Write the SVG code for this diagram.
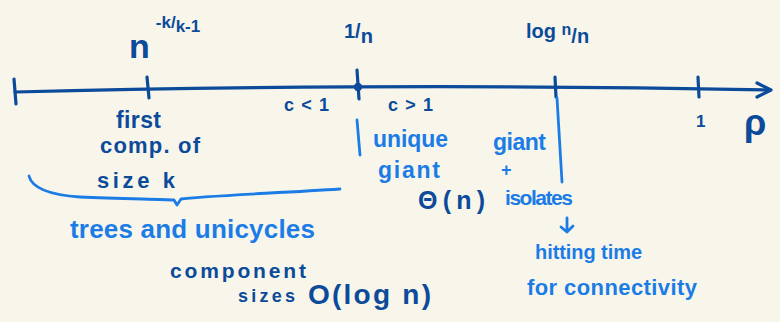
<svg xmlns="http://www.w3.org/2000/svg" width="780" height="322" viewBox="0 0 780 322">
<style>
.d{fill:#0c4a9a;font-family:"Liberation Sans","Open Sans",sans-serif;font-weight:bold}
.l{fill:#1c7ce6;font-family:"Liberation Sans","Open Sans",sans-serif;font-weight:bold}
.sd{stroke:#0c4a9a;stroke-width:3.2;fill:none;stroke-linecap:round;stroke-linejoin:round}
.sl{stroke:#1c7ce6;stroke-width:2.8;fill:none;stroke-linecap:round;stroke-linejoin:round}
</style>
<rect width="780" height="322" fill="#f8f6eb"/>
<g id="axis">
<path class="sd" d="M15,92 C200,87 480,84 770,90"/>
<path class="sd" d="M757,83 L771,90 L757,97"/>
<path class="sd" d="M14,79 L16,104"/>
<path class="sd" d="M147,77 L149,98"/>
<path class="sd" d="M357,70 L359,99"/>
<circle cx="358" cy="87" r="4.2" fill="#0c4a9a"/>
<path class="sd" d="M555,77 L556,97"/>
<path class="sd" d="M698,77 L699,97"/>
</g>
<g id="axis-labels">
<text class="d" x="129" y="58" font-size="34">n<tspan dx="6" dy="-30" font-size="17">-k/</tspan><tspan dy="4" font-size="17">k-1</tspan></text>
<text class="d" x="344" y="38" font-size="20">1/<tspan dy="5">n</tspan></text>
<text class="d" x="526" y="38" font-size="20">log <tspan dy="-3" font-size="16">n</tspan><tspan dy="8">/n</tspan></text>
<text class="d" x="696" y="127" font-size="17">1</text>
<text class="d" x="744" y="135" font-size="36" font-weight="normal">ρ</text>
<text class="d" x="284" y="111" font-size="18" textLength="45" lengthAdjust="spacing">c&lt;1</text>
<text class="d" x="388" y="111" font-size="18" textLength="45" lengthAdjust="spacing">c&gt;1</text>
</g>
<g id="first-comp">
<text class="d" x="116" y="128" font-size="23" textLength="45" lengthAdjust="spacing">first</text>
<text class="d" x="100" y="153" font-size="22" textLength="100" lengthAdjust="spacing">comp. of</text>
<text class="d" x="97" y="188" font-size="22" textLength="78" lengthAdjust="spacing">size k</text>
</g>
<g id="trees">
<path class="sl" d="M29,176 C32,188 50,195 80,197 C120,199 160,199 174,200 L177,205 L181,199 C200,196 280,193 340,189"/>
<text class="l" x="70" y="238" font-size="26" textLength="245" lengthAdjust="spacing">trees and unicycles</text>
</g>
<g id="component-sizes">
<text class="d" x="170" y="278" font-size="21" textLength="136" lengthAdjust="spacing">component</text>
<text class="d" x="238" y="302" font-size="18" textLength="57" lengthAdjust="spacing">sizes</text>
<text class="d" x="308" y="304" font-size="28" textLength="123" lengthAdjust="spacing">O(log n)</text>
</g>
<g id="unique-giant">
<path class="sl" d="M357,120 L360,155"/>
<text class="l" x="373" y="147" font-size="23" textLength="75" lengthAdjust="spacing">unique</text>
<text class="l" x="378" y="178" font-size="23" textLength="62" lengthAdjust="spacing">giant</text>
<text class="d" x="418" y="209" font-size="25" textLength="67" lengthAdjust="spacing">Θ(n)</text>
</g>
<g id="giant-isolates">
<path class="sl" d="M557,98 L562,182"/>
<text class="l" x="493" y="150" font-size="23" textLength="53" lengthAdjust="spacing">giant</text>
<text class="l" x="501" y="176" font-size="18">+</text>
<text class="l" x="505" y="205" font-size="21" textLength="68" lengthAdjust="spacing">isolates</text>
</g>
<g id="hitting-time">
<path class="sl" d="M567,218 L567,232 M561,227 L567,232 L573,226"/>
<text class="l" x="535" y="259" font-size="20" textLength="107" lengthAdjust="spacing">hitting time</text>
<text class="l" x="527" y="295" font-size="22" textLength="170" lengthAdjust="spacing">for connectivity</text>
</g>
</svg>
